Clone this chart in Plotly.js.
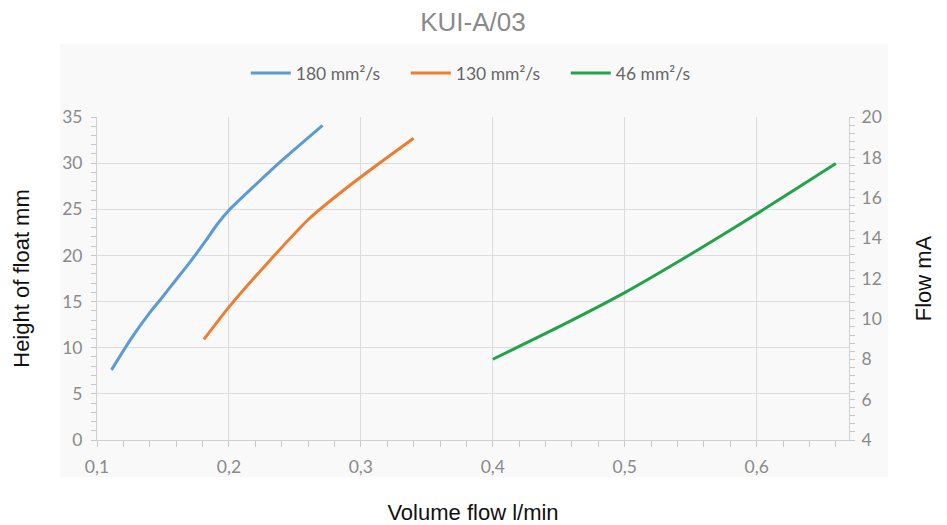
<!DOCTYPE html>
<html>
<head>
<meta charset="utf-8">
<script src="https://cdn.plot.ly/plotly-3.0.1.min.js"></script>
<style>html,body{margin:0;padding:0;background:#fff;}#chart{width:947px;height:525px;}</style>
</head>
<body>
<div id="chart"></div>
<script>
// Series names
const seriesNames = ["180 mm²/s", "130 mm²/s", "46 mm²/s"];

// 180 mm²/s (left axis, height of float mm)
const blue180_x = [0.111, 0.125, 0.140, 0.148, 0.159, 0.169, 0.183, 0.1907, 0.200, 0.216, 0.241, 0.271];
const blue180_y = [7.6, 10.8, 13.8, 15.2, 17.2, 19.0, 21.7, 23.3, 24.9, 27.1, 30.4, 34.1];

// 130 mm²/s (left axis)
const orange130_x = [0.181, 0.200, 0.230, 0.261, 0.2917, 0.315, 0.340];
const orange130_y = [10.9, 14.4, 19.3, 24.0, 27.6, 30.1, 32.7];

// 46 mm²/s (right axis, flow mA)
const green46_x = [0.40, 0.45, 0.50, 0.55, 0.60, 0.63, 0.66];
const green46_y = [8.0, 9.6, 11.3, 13.2, 15.2, 16.45, 17.7];

// Axis texts
const chartTitle = "KUI-A/03";
const xTitle = "Volume flow l/min";
const yTitle = "Height of float mm";
const y2Title = "Flow mA";

const tickFont = {family: "Lato, 'Open Sans', sans-serif", size: 17.5, color: "#8a8a8a"};
const titleFont = {family: "'Liberation Sans', Arial, sans-serif", size: 22, color: "#111"};

const traces = [
  {x: blue180_x, y: blue180_y, name: seriesNames[0], mode: "lines",
   line: {color: "#5b9bd5", width: 3, shape: "spline", smoothing: 0.6}},
  {x: orange130_x, y: orange130_y, name: seriesNames[1], mode: "lines",
   line: {color: "#ed7d31", width: 3, shape: "spline", smoothing: 0.6}},
  {x: green46_x, y: green46_y, name: seriesNames[2], mode: "lines", yaxis: "y2",
   line: {color: "#22a34a", width: 3, shape: "spline", smoothing: 0.6}}
];

const layout = {
  width: 947, height: 525,
  margin: {l: 97, r: 98, t: 117, b: 85},
  paper_bgcolor: "#ffffff",
  plot_bgcolor: "rgba(0,0,0,0)",
  separators: ",.",
  showlegend: true,
  title: {text: chartTitle, x: 0.5, xref: "paper", xanchor: "center", y: 0.958, yanchor: "middle",
          font: {family: "'Liberation Sans', Arial, sans-serif", size: 26, color: "#8a8a8a"}},
  legend: {orientation: "h", x: 0.517, xanchor: "center", y: 1.136, yanchor: "middle",
           font: {family: "Lato, 'Open Sans', sans-serif", size: 17.5, color: "#666"},
           bgcolor: "rgba(0,0,0,0)", itemwidth: 40, tracegroupgap: 0,
           entrywidth: 105, entrywidthmode: "pixels"},
  shapes: [
    {type: "rect", xref: "paper", yref: "paper", x0: -0.049, x1: 1.052, y0: -0.115, y1: 1.225,
     fillcolor: "#f9f9f9", line: {width: 0}, layer: "below"}
  ],
  xaxis: {
    range: [0.1, 0.67], tick0: 0.1, dtick: 0.1,
    showgrid: true, gridcolor: "#dcdcdc", gridwidth: 1,
    showline: true, linecolor: "#d0d0d0", linewidth: 1,
    ticks: "outside", ticklen: 6, tickcolor: "#c8c8c8", ticklabelstandoff: 5,
    minor: {dtick: 0.02, tick0: 0.1, ticks: "outside", ticklen: 6, tickcolor: "#c8c8c8", showgrid: false},
    zeroline: false, tickfont: tickFont,
    title: {text: xTitle, font: titleFont, standoff: 34}
  },
  yaxis: {
    range: [0, 35], tick0: 0, dtick: 5,
    showgrid: true, gridcolor: "#dcdcdc", gridwidth: 1,
    showline: true, linecolor: "#d0d0d0", linewidth: 1,
    ticks: "outside", ticklen: 5, tickcolor: "#c8c8c8", ticklabelstandoff: 5,
    minor: {dtick: 1, ticks: "outside", ticklen: 5, tickcolor: "#c8c8c8", showgrid: false},
    zeroline: false, tickfont: tickFont,
    title: {text: yTitle, font: titleFont, standoff: 26}
  },
  yaxis2: {
    overlaying: "y", side: "right",
    range: [4, 20], tick0: 4, dtick: 2,
    showgrid: false,
    showline: true, linecolor: "#d0d0d0", linewidth: 1,
    ticks: "outside", ticklen: 5, tickcolor: "#c8c8c8", ticklabelstandoff: 3,
    minor: {dtick: 0.4, ticks: "outside", ticklen: 5, tickcolor: "#c8c8c8", showgrid: false},
    zeroline: false, tickfont: tickFont,
    title: {text: y2Title, font: titleFont, standoff: 34}
  }
};

Plotly.newPlot("chart", traces, layout, {displayModeBar: false, responsive: false});
</script>
</body>
</html>
